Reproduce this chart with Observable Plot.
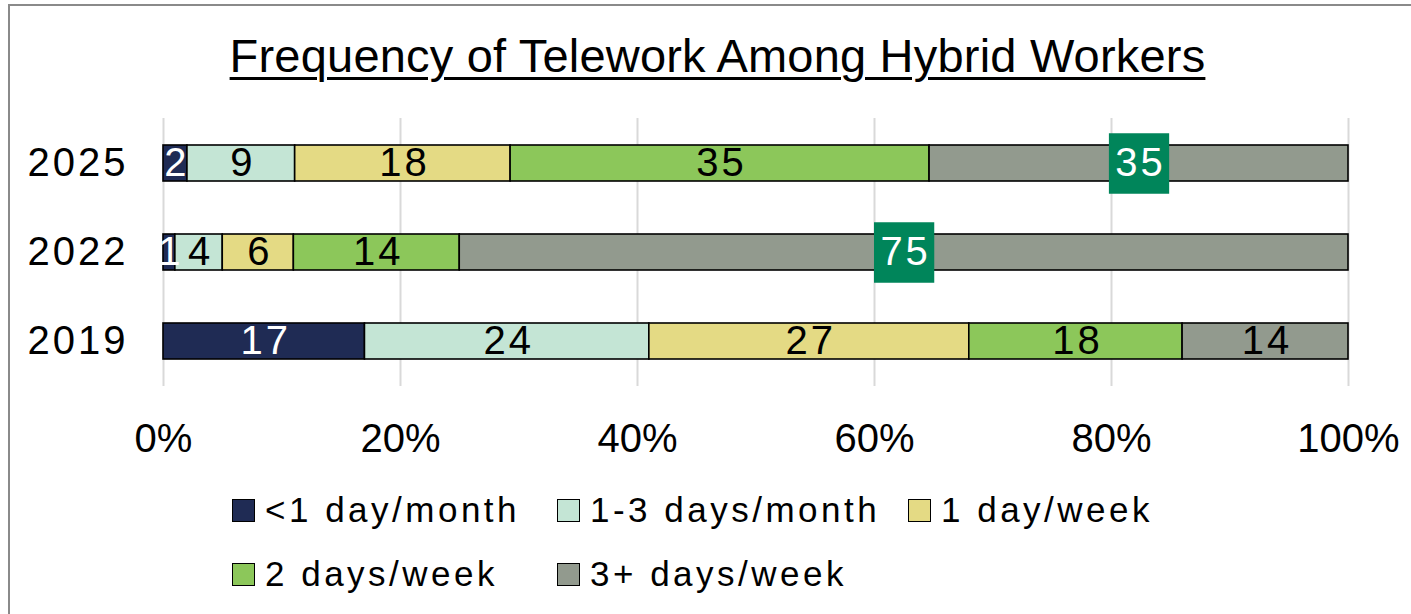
<!DOCTYPE html>
<html><head><meta charset="utf-8">
<script src="https://cdn.jsdelivr.net/npm/d3@7"></script>
<script src="https://cdn.jsdelivr.net/npm/@observablehq/plot@0.6"></script>
<style>
body{margin:0;background:#fff;}
#wrap{position:relative;width:1411px;height:614px;overflow:hidden;font-family:"Liberation Sans",Arial,sans-serif;color:#000;}
#frame{position:absolute;left:8px;top:4px;width:2000px;height:2000px;border-top:2px solid #8a8a8a;border-left:2px solid #8a8a8a;pointer-events:none;}
#title{position:absolute;left:12px;top:32px;width:1411px;text-align:center;font-size:47px;line-height:47px;letter-spacing:0.2px;text-decoration:underline;text-decoration-thickness:3px;text-underline-offset:5px;white-space:nowrap;}
#chart{position:absolute;left:0;top:0;width:1411px;}
#legend{position:absolute;left:232px;top:493px;display:grid;grid-template-columns:325px 351px auto;row-gap:30px;font-family:"Liberation Sans",Arial,sans-serif;font-size:35px;letter-spacing:3.5px;line-height:34px;}
.item{display:flex;align-items:center;white-space:nowrap;}
.sw{width:21px;height:21px;border:1px solid #000;margin-right:10px;flex:none;}
</style></head><body>
<div id="wrap"><div id="title"></div><div id="chart"></div><div id="legend"></div><div id="frame"></div></div>
<script>
const title = "Frequency of Telework Among Hybrid Workers";
const years = ["2025", "2022", "2019"];
const categories = ["<1 day/month", "1-3 days/month", "1 day/week", "2 days/week", "3+ days/week"];
const colors = ["#1f2b54", "#c4e5d5", "#e4da84", "#8cc75a", "#929a8e"];
const values2025 = [2, 9, 18, 35, 35];
const values2022 = [1, 4, 6, 14, 75];
const values2019 = [17, 24, 27, 18, 14];
const xTicks = [0, 0.2, 0.4, 0.6, 0.8, 1];
const highlighted = [["2025", "3+ days/week"], ["2022", "3+ days/week"]];
const whiteLabelCategories = ["<1 day/month"];

const seriesByYear = {"2025": values2025, "2022": values2022, "2019": values2019};
const data = [];
for (const y of years) seriesByYear[y].forEach((v, i) => data.push({year: y, cat: categories[i], value: v}));
const isHi = d => highlighted.some(([y, c]) => y === d.year && c === d.cat);
const isWhite = d => isHi(d) || whiteLabelCategories.includes(d.cat);
const stack = o => Plot.stackX({x: "value", y: "year", z: "cat", order: categories, offset: "normalize", ...o});

document.getElementById("title").textContent = title;

const chart = Plot.plot({
  width: 1411, height: 470,
  marginLeft: 163, marginRight: 63, marginTop: 118, marginBottom: 84,
  style: {fontFamily: '"Liberation Sans", Arial, sans-serif', fontSize: "40px", color: "#000", background: "transparent"},
  x: {domain: [0, 1]},
  y: {domain: years, paddingInner: 0.595, paddingOuter: 0.2975},
  color: {domain: categories, range: colors},
  marks: [
    Plot.gridX(xTicks, {stroke: "#d9d9d9", strokeOpacity: 1, strokeWidth: 2}),
    Plot.axisX({ticks: xTicks, tickFormat: d3.format(".0%"), tickSize: 0, tickPadding: 37, fontSize: 40, label: null}),
    Plot.axisY({tickSize: 0, tickPadding: 35, fontSize: 40, label: null}),
    Plot.barX(data, stack({fill: "cat", stroke: "#000", strokeWidth: 1.6})),
    Plot.dot(data, stack({symbol: "square", r: 34, fill: "#00855a", fillOpacity: d => isHi(d) ? 1 : 0})),
    Plot.text(data, stack({text: d => isWhite(d) ? String(d.value) : "", fill: "#fff", fontSize: 40, dx: 1.5})),
    Plot.text(data, stack({text: d => isWhite(d) ? "" : String(d.value), fill: "#000", fontSize: 40, dx: 1.5}))
  ]
});
d3.select(chart).selectAll('g[aria-label="y-axis tick label"] text').style("letter-spacing", "3px");
d3.select(chart).selectAll('g[aria-label="text"] text').style("letter-spacing", "3px");
document.getElementById("chart").appendChild(chart);

const legend = document.getElementById("legend");
categories.forEach((c, i) => {
  const item = document.createElement("div");
  item.className = "item";
  const sw = document.createElement("span");
  sw.className = "sw";
  sw.style.background = colors[i];
  const t = document.createElement("span");
  t.textContent = c;
  item.appendChild(sw); item.appendChild(t);
  legend.appendChild(item);
});
</script>
</body></html>
